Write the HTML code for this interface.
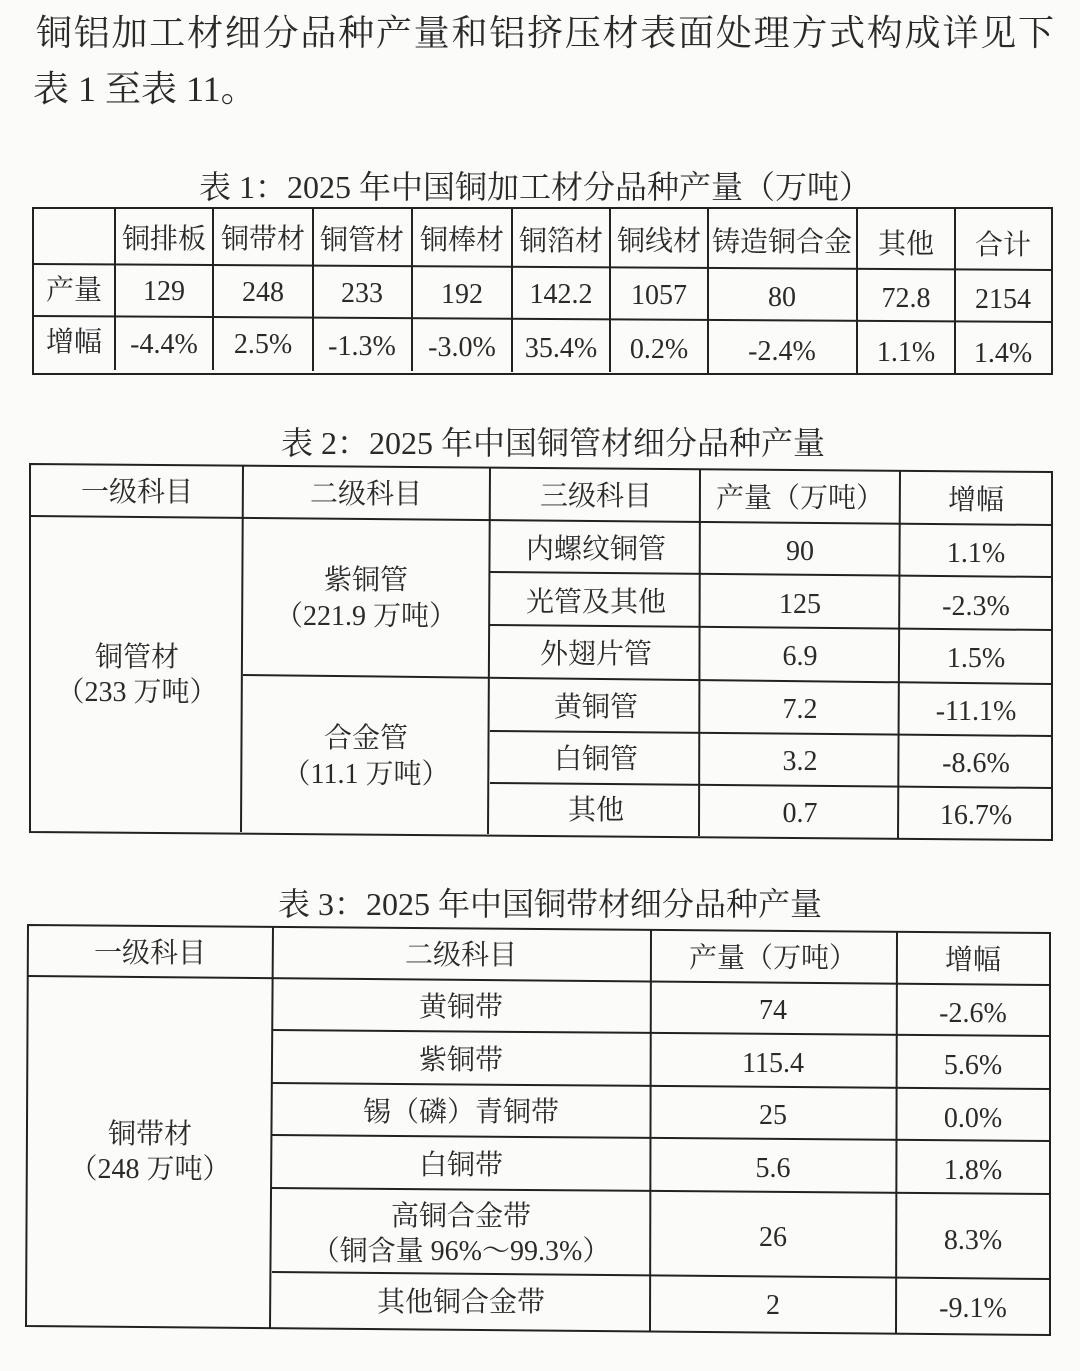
<!DOCTYPE html>
<html><head><meta charset="utf-8"><style>
html,body{margin:0;padding:0;background:#fbfbfa;}
svg{display:block}
text{font-family:"Liberation Serif","Noto Serif CJK SC",serif;fill:#2a2a2a;}
</style></head><body>
<svg width="1080" height="1371" viewBox="0 0 1080 1371" xmlns="http://www.w3.org/2000/svg">
<g font-size="36">
<text x="36" y="45" textLength="1018" lengthAdjust="spacing">铜铝加工材细分品种产量和铝挤压材表面处理方式构成详见下</text>
<text x="33" y="101">表 1 至表 11。</text>
</g>
<text x="535" y="198" font-size="32" text-anchor="middle">表 1：2025 年中国铜加工材分品种产量（万吨）</text>
<g stroke="#222" stroke-width="2" fill="none">
<rect x="33" y="208" width="1019" height="166"/>
<line x1="33" y1="264" x2="1052" y2="270"/>
<line x1="33" y1="316" x2="1052" y2="322"/>
<line x1="115" y1="208" x2="115" y2="370"/>
<line x1="213" y1="208" x2="213" y2="370"/>
<line x1="313" y1="208" x2="313" y2="371"/>
<line x1="412" y1="208" x2="412" y2="371"/>
<line x1="512" y1="208" x2="512" y2="372"/>
<line x1="610" y1="208" x2="610" y2="372"/>
<line x1="708" y1="208" x2="708" y2="373"/>
<line x1="857" y1="208" x2="857" y2="374"/>
<line x1="955" y1="208" x2="955" y2="375"/>
</g>
<g font-size="28" text-anchor="middle">
<text x="164" y="248">铜排板</text><text x="263" y="248">铜带材</text><text x="362" y="249">铜管材</text><text x="462" y="249">铜棒材</text><text x="561" y="250">铜箔材</text><text x="659" y="250">铜线材</text><text x="782" y="251">铸造铜合金</text><text x="906" y="253">其他</text><text x="1003" y="254">合计</text>
<text x="74" y="299">产量</text><text x="164" y="300">129</text><text x="263" y="301">248</text><text x="362" y="302">233</text><text x="462" y="303">192</text><text x="561" y="303">142.2</text><text x="659" y="304">1057</text><text x="782" y="306">80</text><text x="906" y="307">72.8</text><text x="1003" y="308">2154</text>
<text x="74" y="351">增幅</text><text x="164" y="353">-4.4%</text><text x="263" y="353">2.5%</text><text x="362" y="355">-1.3%</text><text x="462" y="356">-3.0%</text><text x="561" y="357">35.4%</text><text x="659" y="358">0.2%</text><text x="782" y="360">-2.4%</text><text x="906" y="361">1.1%</text><text x="1003" y="362">1.4%</text>
</g>

<text x="553" y="454" font-size="32" text-anchor="middle">表 2：2025 年中国铜管材细分品种产量</text>
<g stroke="#222" stroke-width="2" fill="none">
<polygon points="30,464 1052,472 1052,840 30,832"/>
<line x1="30" y1="516" x2="1052" y2="525"/>
<line x1="490" y1="572" x2="1052" y2="577"/>
<line x1="490" y1="625" x2="1052" y2="630"/>
<line x1="243" y1="675" x2="1052" y2="684"/>
<line x1="490" y1="731" x2="1052" y2="736"/>
<line x1="490" y1="783" x2="1052" y2="788"/>
<line x1="243" y1="466" x2="241" y2="832"/>
<line x1="490" y1="468" x2="488" y2="834"/>
<line x1="700" y1="469" x2="699" y2="836"/>
<line x1="900" y1="471" x2="898" y2="838"/>
</g>
<g font-size="28" text-anchor="middle">
<text x="137" y="501">一级科目</text><text x="366" y="503">二级科目</text><text x="596" y="505">三级科目</text><text x="800" y="507">产量（万吨）</text><text x="976" y="509">增幅</text>
<text x="596" y="558">内螺纹铜管</text><text x="800" y="560">90</text><text x="976" y="562">1.1%</text>
<text x="596" y="611">光管及其他</text><text x="800" y="613">125</text><text x="976" y="615">-2.3%</text>
<text x="596" y="663">外翅片管</text><text x="800" y="665">6.9</text><text x="976" y="667">1.5%</text>
<text x="596" y="716">黄铜管</text><text x="800" y="718">7.2</text><text x="976" y="720">-11.1%</text>
<text x="596" y="768">白铜管</text><text x="800" y="770">3.2</text><text x="976" y="772">-8.6%</text>
<text x="596" y="819">其他</text><text x="800" y="822">0.7</text><text x="976" y="824">16.7%</text>
<text x="366" y="589">紫铜管</text><text x="366" y="625">（221.9 万吨）</text>
<text x="137" y="666">铜管材</text><text x="137" y="701">（233 万吨）</text>
<text x="366" y="747">合金管</text><text x="366" y="783">（11.1 万吨）</text>
</g>

<text x="550" y="915" font-size="32" text-anchor="middle">表 3：2025 年中国铜带材细分品种产量</text>
<g stroke="#222" stroke-width="2" fill="none">
<polygon points="28,925 1050,933 1050,1335 26,1326"/>
<line x1="28" y1="976" x2="1050" y2="985"/>
<line x1="272" y1="1030" x2="1050" y2="1036"/>
<line x1="272" y1="1083" x2="1050" y2="1089"/>
<line x1="272" y1="1135" x2="1050" y2="1141"/>
<line x1="272" y1="1188" x2="1050" y2="1194"/>
<line x1="272" y1="1272" x2="1050" y2="1279"/>
<line x1="273" y1="927" x2="270" y2="1328"/>
<line x1="651" y1="930" x2="650" y2="1331"/>
<line x1="897" y1="932" x2="896" y2="1333"/>
</g>
<g font-size="28" text-anchor="middle">
<text x="150" y="962">一级科目</text><text x="461" y="964">二级科目</text><text x="773" y="967">产量（万吨）</text><text x="973" y="969">增幅</text>
<text x="461" y="1016">黄铜带</text><text x="773" y="1019">74</text><text x="973" y="1022">-2.6%</text>
<text x="461" y="1069">紫铜带</text><text x="773" y="1072">115.4</text><text x="973" y="1074">5.6%</text>
<text x="461" y="1121">锡（磷）青铜带</text><text x="773" y="1124">25</text><text x="973" y="1127">0.0%</text>
<text x="461" y="1174">白铜带</text><text x="773" y="1177">5.6</text><text x="973" y="1179">1.8%</text>
<text x="461" y="1225">高铜合金带</text><text x="461" y="1260">（铜含量 96%～99.3%）</text><text x="773" y="1246">26</text><text x="973" y="1249">8.3%</text>
<text x="461" y="1311">其他铜合金带</text><text x="773" y="1314">2</text><text x="973" y="1317">-9.1%</text>
<text x="150" y="1143">铜带材</text><text x="150" y="1178">（248 万吨）</text>
</g>
</svg>
</body></html>
